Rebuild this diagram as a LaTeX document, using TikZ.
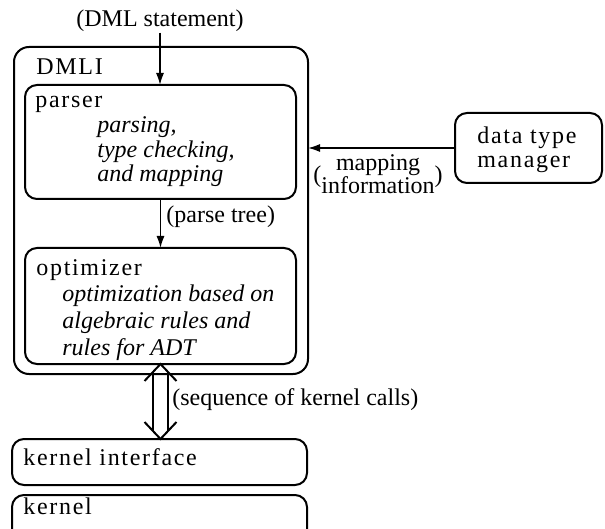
\documentclass[tikz,border=0pt]{standalone}
\usepackage{fontspec}
\setmainfont{Liberation Serif}
\newfontfamily\spaced[LetterSpace=7]{Liberation Serif}
\usetikzlibrary{arrows.meta}
\usetikzlibrary{calc}
\newcommand{\ital}[1]{{\rmfamily\itshape #1}}
\tikzset{
    box/.style = {rectangle, draw=black, line width=1pt, rounded corners=6pt, inner sep=0pt, outer sep=0pt},
    bigbox/.style = {box, rounded corners=7.5pt},
    title/.style = {anchor=base west, inner sep=0pt, align=left, font=\spaced\fontsize{12}{12.4}\selectfont},
    note/.style = {inner sep=0pt, font=\fontsize{12}{10.5}\selectfont},
    edgen/.style = {-{Latex[length=6pt,width=4pt]}, line width=0.8pt},
    edged/.style = {line width=1pt, line join=miter}, % hollow double arrow
}
\begin{document}
\begin{tikzpicture}[x=0.5pt, y=-0.5pt]
\useasboundingbox (0,0) rectangle (605,529);
%
\node[bigbox, minimum width=147pt, minimum height=163.5pt] at (161,210.5) (dmli) {};
\node[box, minimum width=135.5pt, minimum height=57pt] at (160.5,142) (parser) {};
\node[box, minimum width=135.5pt, minimum height=58pt] at (160.5,306) (optimizer) {};
\node[box, minimum width=73.5pt, minimum height=35pt] at (528.5,148) (dtm) {};
\node[box, minimum width=147.5pt, minimum height=23pt] at (159.5,462) (kif) {};
\node[box, minimum width=147.5pt, minimum height=30pt, anchor=north] at (159.5,495) (kernel) {};
%
% base of a multi-line node is its last line
\node[title] at (36,75) (dmlitxt) {DMLI};
\node[title] at (35,182) (parsertxt) {parser\\
  \hspace*{31pt}\ital{parsing,}\\
  \hspace*{31pt}\ital{type checking,}\\
  \hspace*{31pt}\ital{and mapping}};
\node[title, font=\spaced\fontsize{12}{13.3}\selectfont] at (36,355) (opttxt) {optimizer\\
  \hspace*{13pt}\ital{optimization based on}\\
  \hspace*{13pt}\ital{algebraic rules and}\\
  \hspace*{13pt}\ital{rules for ADT}};
\node[title] at (477,168) (dtmtxt) {data type\\manager};
\node[title] at (23,465) (kiftxt) {kernel interface};
\node[title] at (23,514) (kerneltxt) {kernel};
%
\node[note, anchor=base] at (160,27) (dml) {(DML statement)};
\node[note, anchor=base west] at (166,223) (ptree) {(parse tree)};
\node[note] at (378,177) (mapinfo) {(\begin{tabular}{@{}c@{}}mapping\\information\end{tabular})};
\node[note, anchor=base west] at (172,405) (kcalls) {(sequence of kernel calls)};
%
\draw[edgen] (dml.south) -- (dml.south |- parser.north);
\draw[edgen] (parser.south) -- (optimizer.north);
\draw[edgen] (dtm.west) -- (dtm.west -| dmli.east);
%
\coordinate (up) at (optimizer.south);
\coordinate (dn) at (optimizer.south |- kif.north);
\draw[edged] ($(up)+(-16,17)$) -- (up) -- ($(up)+(16,17)$);
\draw[edged] ($(dn)+(-16,-17)$) -- (dn) -- ($(dn)+(16,-17)$);
\draw[edged] ($(up)+(-7.5,8)$) -- ($(dn)+(-7.5,-8)$);
\draw[edged] ($(up)+(7.5,8)$) -- ($(dn)+(7.5,-8)$);

\end{tikzpicture}
\end{document}
